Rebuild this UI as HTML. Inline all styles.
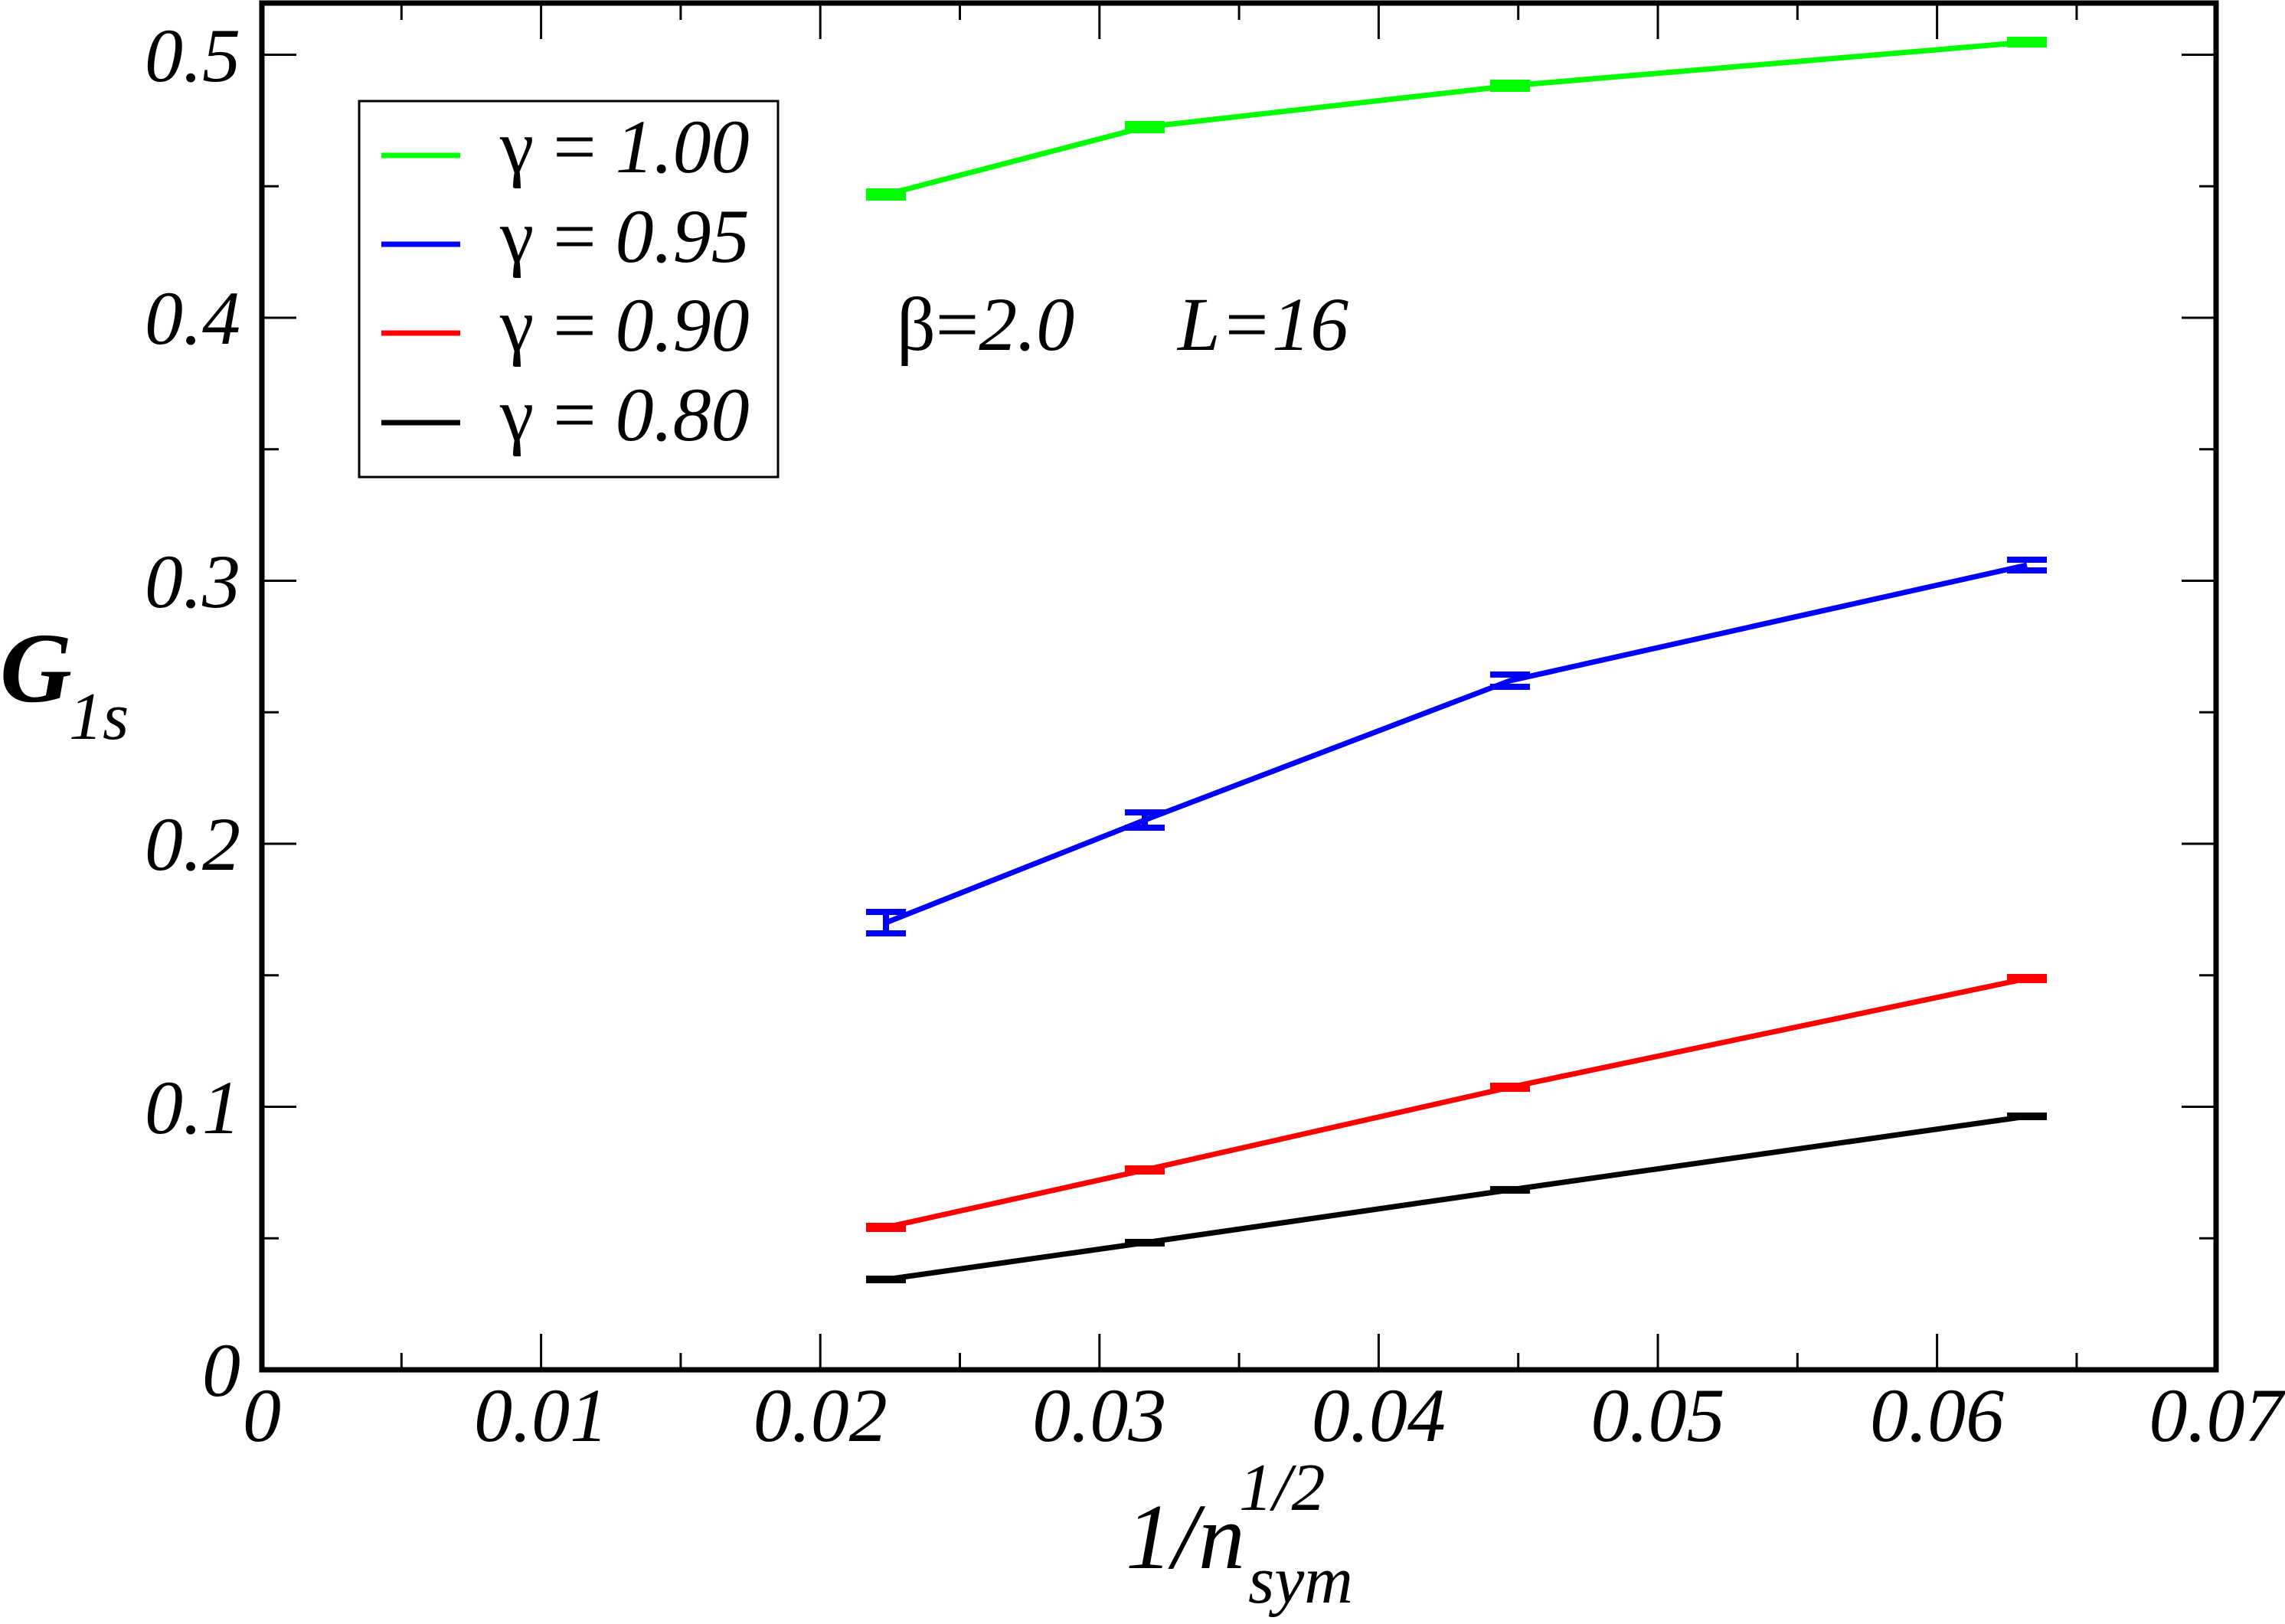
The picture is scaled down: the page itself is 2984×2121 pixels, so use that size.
<!DOCTYPE html>
<html><head><meta charset="utf-8"><style>html,body{margin:0;padding:0;background:#fff}svg{display:block}
svg text, svg tspan{font-family:"Liberation Serif","DejaVu Serif","Times New Roman",Times,serif;}</style></head>
<body>
<svg width="2984" height="2121" viewBox="0 0 2984 2121" xmlns="http://www.w3.org/2000/svg">
<rect width="2984" height="2121" fill="#fff"/>
<g stroke="#000" stroke-width="3">
<path d="M524.3 1789v-22M706.6 1789v-47M888.9 1789v-22M1071.2 1789v-47M1253.5 1789v-22M1435.8 1789v-47M1618.1 1789v-22M1800.4 1789v-47M1982.7 1789v-22M2165 1789v-47M2347.3 1789v-22M2529.6 1789v-47M2711.9 1789v-22"/>
<path d="M524.3 4v22M706.6 4v47M888.9 4v22M1071.2 4v47M1253.5 4v22M1435.8 4v47M1618.1 4v22M1800.4 4v47M1982.7 4v22M2165 4v47M2347.3 4v22M2529.6 4v47M2711.9 4v22"/>
<path d="M342 1617.3h22M342 1445.5h45M342 1273.8h22M342 1102h45M342 930.3h22M342 758.5h45M342 586.8h22M342 415h45M342 243.3h22M342 71.5h45"/>
<path d="M2894 1617.3h-22M2894 1445.5h-45M2894 1273.8h-22M2894 1102h-45M2894 930.3h-22M2894 758.5h-45M2894 586.8h-22M2894 415h-45M2894 243.3h-22M2894 71.5h-45"/>
</g>
<rect x="342" y="4" width="2552" height="1785" fill="none" stroke="#000" stroke-width="7"/>
<g font-size="100" font-style="italic" text-anchor="end">
<text x="314" y="106">0.5</text><text x="314" y="449">0.4</text><text x="314" y="793">0.3</text><text x="314" y="1136">0.2</text><text x="314" y="1480">0.1</text><text x="314" y="1823">0</text>
</g>
<g font-size="100" font-style="italic" text-anchor="middle">
<text x="342" y="1882">0</text><text x="706.6" y="1882">0.01</text><text x="1071.2" y="1882">0.02</text><text x="1435.8" y="1882">0.03</text><text x="1800.4" y="1882">0.04</text><text x="2165" y="1882">0.05</text><text x="2529.6" y="1882">0.06</text><text x="2894" y="1882">0.07</text>
</g>
<text x="0" y="916" font-size="130" font-style="italic" font-weight="bold">G</text>
<text x="90" y="965" font-size="88" font-style="italic">1s</text>
<text x="1470" y="2048" font-size="122" font-style="italic">1/n</text>
<text x="1618" y="1972" font-size="88" font-style="italic">1/2</text>
<text x="1630" y="2093" font-size="88" font-style="italic">sym</text>
<g fill="none" stroke-width="7">
<polyline stroke="#00ff00" points="1157,254 1495,166 1972,112 2647,55"/>
<polyline stroke="#0000ff" points="1157,1205 1495,1071 1972,889 2647,738"/>
<polyline stroke="#ff0000" points="1157,1603 1495,1528 1972,1420 2647,1278"/>
<polyline stroke="#000000" points="1157,1671 1495,1623 1972,1554 2647,1458"/>
</g>
<g stroke-width="8" fill="none">
<g stroke="#00ff00"><path d="M1131 250h52M1131 258h52M1469 162h52M1469 170h52M1946 108h52M1946 116h52M2621 52h52M2621 58h52"/></g>
<g stroke="#0000ff"><path d="M1131 1191h52M1131 1219h52M1157 1191v28M1469 1061h52M1469 1081h52M1495 1061v20M1946 881h52M1946 897h52M2621 731h52M2621 745h52"/></g>
<g stroke="#ff0000"><path d="M1131 1601h52M1131 1605h52M1469 1526h52M1469 1530h52M1946 1418h52M1946 1422h52M2621 1276h52M2621 1280h52"/></g>
<g stroke="#000"><path d="M1131 1670h52M1131 1672h52M1469 1622h52M1469 1624h52M1946 1553h52M1946 1555h52M2621 1457h52M2621 1459h52"/></g>
</g>
<rect x="469" y="132" width="547" height="491" fill="#fff" stroke="#000" stroke-width="3"/>
<g stroke-width="7">
<line x1="498" y1="203" x2="601" y2="203" stroke="#00ff00"/>
<line x1="498" y1="319" x2="601" y2="319" stroke="#0000ff"/>
<line x1="498" y1="435" x2="601" y2="435" stroke="#ff0000"/>
<line x1="498" y1="552" x2="601" y2="552" stroke="#000"/>
</g>
<g font-size="100">
<text x="653" y="225">γ = <tspan font-style="italic">1.00</tspan></text>
<text x="653" y="342">γ = <tspan font-style="italic">0.95</tspan></text>
<text x="653" y="458">γ = <tspan font-style="italic">0.90</tspan></text>
<text x="653" y="575">γ = <tspan font-style="italic">0.80</tspan></text>
</g>
<text x="1171" y="457" font-size="100">β=<tspan font-style="italic">2.0</tspan></text>
<text x="1538" y="457" font-size="100" font-style="italic">L=16</text>
</svg>
</body></html>
